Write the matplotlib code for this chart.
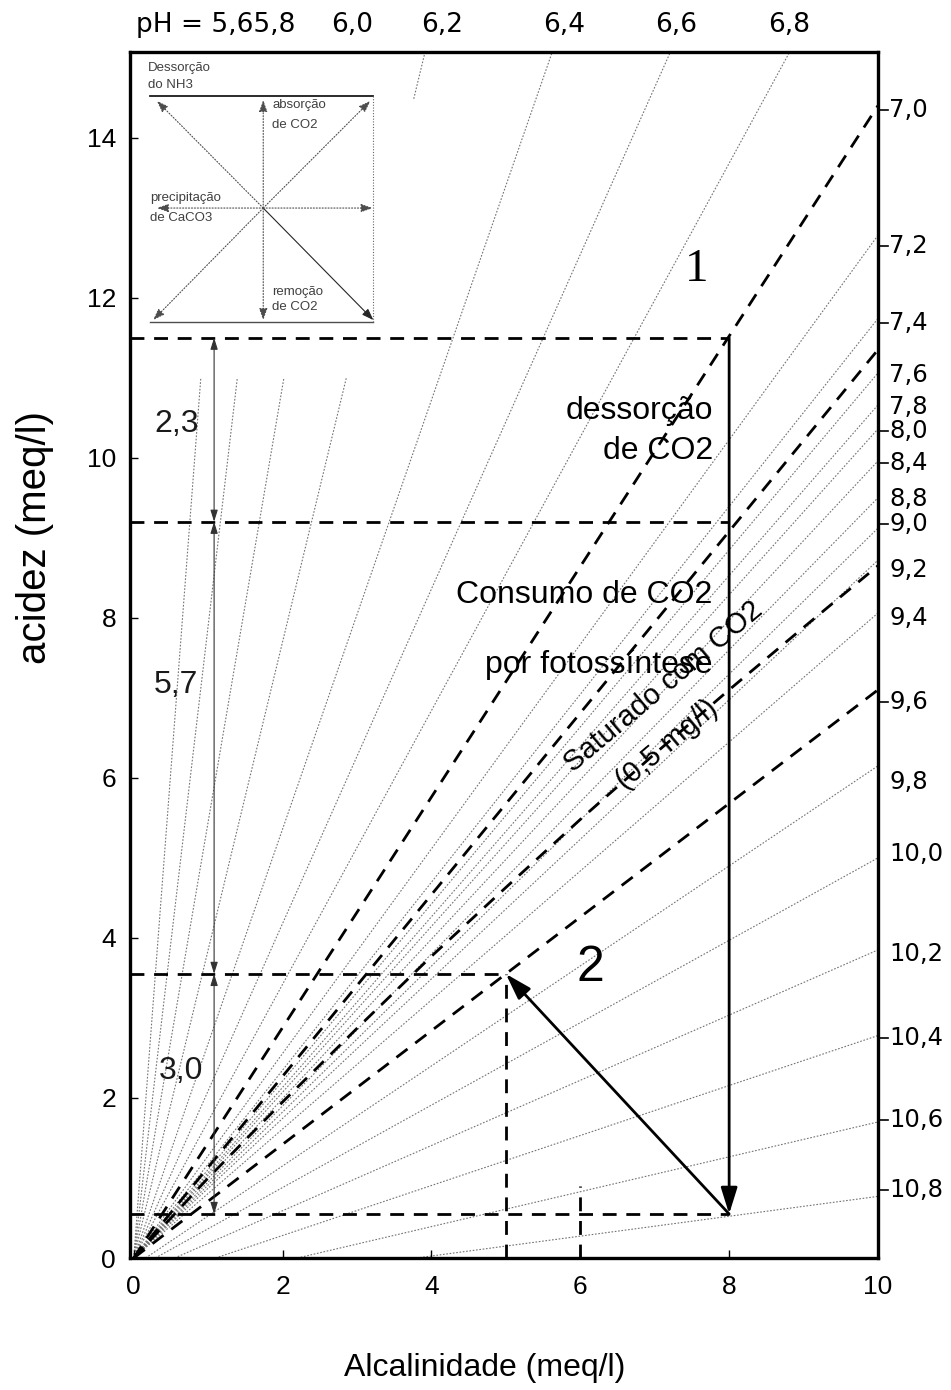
import numpy as np
import matplotlib
matplotlib.use("Agg")
import matplotlib.pyplot as plt

plt.rcParams['font.family'] = ['Liberation Sans', 'DejaVu Sans']

# ---------------- data ----------------
# steep pH lines (through the origin), ratio acidez/alcalinidade
ph_left_labels = ['5,6', '5,8', '6,0', '6,2', '6,4', '6,6', '6,8']
ph_left_ratio = [12.2, 7.9, 5.45, 3.85, 2.68, 2.09, 1.71]

# flatter pH lines: start on the x axis, end on the right frame (x = 10)
ph_right_labels = ['7,2', '7,4', '7,6', '7,8', '8,0', '8,4', '8,8', '9,0', '9,2',
                   '9,4', '9,8', '10,0', '10,2', '10,4', '10,6', '10,8']
ph_right_x0 = [0, 0, 0, 0, 0, 0, 0, 0, 0, 0, 0.16, 0.29, 0.55, 1.1, 2.2, 3.8]
ph_right_y10 = [12.78, 11.74, 11.06, 10.66, 10.36, 9.96, 9.50, 9.12, 8.72,
                8.06, 6.15, 5.00, 3.85, 2.78, 1.70, 0.77]

# labels on the right side
right_text = ['7,0', '7,2', '7,4', '7,6', '7,8', '8,0', '8,4', '8,8', '9,0', '9,2',
              '9,4', '9,6', '9,8', '10,0', '10,2', '10,4', '10,6', '10,8']
right_y = [14.35, 12.65, 11.68, 11.03, 10.64, 10.33, 9.93, 9.49, 9.17, 8.60,
           8.00, 6.95, 5.95, 5.05, 3.80, 2.75, 1.72, 0.85]
right_tick = [1, 1, 1, 0, 0, 1, 1, 0, 1, 0, 0, 1, 0, 0, 0, 1, 1, 1]

# labels on the top
top_text = ['6,0', '6,2', '6,4', '6,6', '6,8']
top_x = [2.93, 4.15, 5.78, 7.29, 8.80]

# bold dashed lines through the origin (value at x = 10)
bold_y10 = [14.4, 11.35, 7.1]

# CO2 saturation curve (0,5 mg/l)
co2_alk = [0, 1, 2, 3, 4, 5, 6, 7, 8, 9, 10]
co2_acid = [0, 1.0, 1.95, 2.87, 3.77, 4.63, 5.48, 6.30, 7.10, 7.88, 8.65]

# process path
path_x = [8, 8, 5]
path_y = [11.5, 0.55, 3.55]
h_levels = [11.5, 9.2, 3.55, 0.55]
h_xmax = [8, 8, 5, 8]

# dimension arrows
dim_x = 1.08
dim_from = [11.5, 9.2, 3.55]
dim_to = [9.2, 3.55, 0.55]
dim_text = ['2,3', '5,7', '3,0']
dim_tx = [0.57, 0.57, 0.63]
dim_ty = [10.42, 7.16, 2.34]

# ---------------- figure ----------------
W, H = 951, 1390
fig = plt.figure(figsize=(W / 100, H / 100), dpi=100)
L, R, T, B = 130, 878, 52, 1258
ax = fig.add_axes([L / W, 1 - B / H, (R - L) / W, (B - T) / H])
XMIN, XMAX, YMIN, YMAX = -0.05, 10.0, 0.0, 15.07
ax.set_xlim(XMIN, XMAX)
ax.set_ylim(YMIN, YMAX)

thin = dict(color='0.45', lw=0.8, ls=(0, (1.5, 1.5)))


def thin_line(x0, y0, x1, y1):
    t = np.linspace(0, 1, 800)
    xs = x0 + (x1 - x0) * t
    ys = y0 + (y1 - y0) * t
    hidden = (ys > 11.0) & (xs < 3.76)
    ys = np.where(hidden, np.nan, ys)
    ax.plot(xs, ys, **thin, zorder=1)


for r in ph_left_ratio:
    xe = YMAX / r
    thin_line(0, 0, xe, YMAX)
for x0, y10 in zip(ph_right_x0, ph_right_y10):
    thin_line(x0, 0, 10, y10)

bold = dict(color='black', lw=2.0, ls=(0, (5, 3.5)), zorder=3)
for y10 in bold_y10:
    ax.plot([0, 10], [0, y10], **bold)
ax.plot(co2_alk, co2_acid, **bold)

for yl, xm in zip(h_levels, h_xmax):
    ax.plot([XMIN, xm], [yl, yl], **bold)
ax.plot([5, 5], [0, 3.55], **bold)
ax.plot([6, 6], [0, 0.9], **bold)

# process arrows
head = '-|>,head_length=0.8,head_width=0.25'
ax.annotate('', xy=(path_x[1], path_y[1]), xytext=(path_x[0], path_y[0]),
            arrowprops=dict(arrowstyle=head, lw=2.0, color='black',
                            mutation_scale=20, shrinkA=0, shrinkB=0), zorder=4)
ax.annotate('', xy=(path_x[2], path_y[2]), xytext=(path_x[1], path_y[1]),
            arrowprops=dict(arrowstyle=head, lw=2.0, color='black',
                            mutation_scale=20, shrinkA=0, shrinkB=0), zorder=4)

# dimension arrows
for a, b, t, tx, ty in zip(dim_from, dim_to, dim_text, dim_tx, dim_ty):
    ax.annotate('', xy=(dim_x, b), xytext=(dim_x, a),
                arrowprops=dict(arrowstyle='<|-|>,head_length=0.7,head_width=0.22',
                                lw=0.8, color='0.2', mutation_scale=10,
                                shrinkA=0, shrinkB=0))
    ax.text(tx, ty, t, fontsize=23, ha='center', va='center', color='0.1')

# texts
ax.text(7.57, 12.35, '1', fontsize=34, ha='center', va='center',
        family=['Liberation Serif', 'DejaVu Serif'])
ax.text(6.13, 3.63, '2', fontsize=36, ha='center', va='center')
ax.text(7.78, 10.59, 'dessorção', fontsize=23, ha='right', va='center')
ax.text(7.78, 10.08, 'de CO2', fontsize=23, ha='right', va='center')
ax.text(7.78, 8.28, 'Consumo de CO2', fontsize=23, ha='right', va='center')
ax.text(7.78, 7.41, 'por fotossíntese', fontsize=23, ha='right', va='center')
ax.text(7.115, 7.14, 'Saturado com CO2', fontsize=21, ha='center', va='center',
        rotation=40, rotation_mode='anchor')
ax.text(7.17, 6.41, '(0,5 mg/l)', fontsize=21, ha='center', va='center',
        rotation=40, rotation_mode='anchor')

# inset scheme (top-left)
ix0, ix1, iy0, iy1, icx, icy = 0.22, 3.22, 11.70, 14.52, 1.74, 13.12
ax.plot([ix0, ix1], [iy1, iy1], color='0.1', lw=1.3)
ax.plot([ix0, ix1], [iy0, iy0], color='0.3', lw=1.0)
ax.plot([ix1, ix1], [iy0, iy1], color='0.4', lw=0.8, ls=(0, (1, 1.5)))
small = '-|>,head_length=0.7,head_width=0.25'


def iarrow(x0, y0, x1, y1, ls='-', c='0.3'):
    ax.annotate('', xy=(x1, y1), xytext=(x0, y0),
                arrowprops=dict(arrowstyle=small, lw=0.8, color=c, ls=ls,
                                mutation_scale=10, shrinkA=0, shrinkB=0))


iarrow(icx, icy, icx, 14.47, ls=':')
iarrow(icx, icy, icx, 11.72, ls=':')
iarrow(icx, icy, 0.31, icy, ls=':')
iarrow(icx, icy, 3.21, icy, ls=':')
iarrow(icx, icy, 0.31, 14.46, ls=':')
iarrow(icx, icy, 3.22, 11.72, ls='-', c='0.15')
iarrow(icx, icy, 0.26, 11.72, ls=':')
iarrow(icx, icy, 3.18, 14.46, ls=':')
inset_font = dict(fontsize=9.5, color='0.25', ha='left', va='center')
ax.text(0.19, 14.87, 'Dessorção', **inset_font)
ax.text(0.19, 14.66, 'do NH3', **inset_font)
ax.text(1.86, 14.41, 'absorção', **inset_font)
ax.text(1.86, 14.16, 'de CO2', **inset_font)
ax.text(0.22, 13.25, 'precipitação', **inset_font)
ax.text(0.22, 13.00, 'de CaCO3', **inset_font)
ax.text(1.86, 12.07, 'remoção', **inset_font)
ax.text(1.86, 11.88, 'de CO2', **inset_font)

# right labels
for t, y, k in zip(right_text, right_y, right_tick):
    if k:
        ax.plot([10, 10.13], [y, y], color='black', lw=1.2, clip_on=False)
    ax.text(10.15, y, t, fontsize=17.5, ha='left', va='center',
            family=['DejaVu Sans'], clip_on=False)

# top labels
ax.text(0.03, 15.41, 'pH = 5,65,8', fontsize=19, ha='left', va='center',
        family=['DejaVu Sans'], clip_on=False)
for t, x in zip(top_text, top_x):
    ax.text(x, 15.41, t, fontsize=19, ha='center', va='center',
            family=['DejaVu Sans'], clip_on=False)

# axes styling
for s in ax.spines.values():
    s.set_linewidth(2.4)
ax.set_xticks([0, 2, 4, 6, 8, 10])
ax.set_yticks([0, 2, 4, 6, 8, 10, 12, 14])
ax.tick_params(axis='both', direction='in', length=6, width=1, labelsize=19)
ax.tick_params(axis='x', pad=12)
ax.tick_params(axis='y', pad=10)

fig.text(485 / W, 1 - 1368 / H, 'Alcalinidade (meq/l)', fontsize=23,
         ha='center', va='center')
fig.text(35 / W, 1 - 538 / H, 'acidez (meq/l)', fontsize=29, rotation=90,
         ha='center', va='center')

fig.savefig('out.png', dpi=100)
